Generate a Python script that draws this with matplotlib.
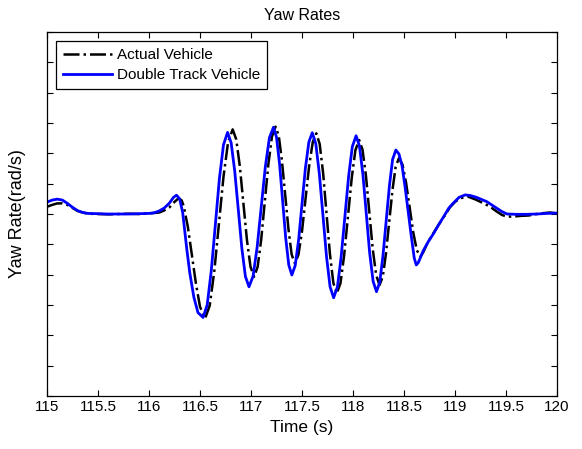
import numpy as np
import matplotlib
matplotlib.use('Agg')
import matplotlib.pyplot as plt

plt.rcParams['font.family'] = ['Liberation Sans', 'DejaVu Sans']

# Double Track Vehicle (blue, solid)
t_dt = [115.00, 115.05, 115.10, 115.15, 115.20, 115.25, 115.30, 115.35, 115.40, 115.50,
        115.60, 115.70, 115.80, 115.90, 116.00, 116.05, 116.10, 116.15, 116.20, 116.24,
        116.27, 116.30, 116.33, 116.37, 116.40, 116.44, 116.48, 116.53, 116.57, 116.61,
        116.65, 116.69, 116.73, 116.77, 116.805, 116.84, 116.875, 116.91, 116.945, 116.98,
        117.02, 117.06, 117.10, 117.14, 117.18, 117.22, 117.25, 117.28, 117.31, 117.34,
        117.37, 117.40, 117.433, 117.467, 117.50, 117.533, 117.567, 117.60, 117.635, 117.67,
        117.705, 117.74, 117.775, 117.81, 117.847, 117.883, 117.92, 117.957, 117.993, 118.03,
        118.063, 118.097, 118.13, 118.163, 118.197, 118.23, 118.262, 118.293, 118.325, 118.357,
        118.388, 118.42, 118.45, 118.48, 118.51, 118.54, 118.57, 118.60, 118.62, 118.64,
        118.69, 118.74, 118.79, 118.84, 118.89, 118.94, 118.98, 119.04, 119.10, 119.15,
        119.21, 119.26, 119.31, 119.36, 119.41, 119.46, 119.51, 119.60, 119.70, 119.80,
        119.90, 120.00]
yaw_dt = [0.039, 0.046, 0.049, 0.046, 0.035, 0.022, 0.011, 0.005, 0.002, 0.001,
          0.000, 0.000, 0.000, 0.001, 0.002, 0.004, 0.010, 0.020, 0.036, 0.055,
          0.062, 0.050, 0.005, -0.115, -0.195, -0.275, -0.325, -0.341, -0.300, -0.188,
          -0.036, 0.117, 0.228, 0.269, 0.235, 0.142, 0.015, -0.113, -0.206, -0.240,
          -0.205, -0.109, 0.023, 0.155, 0.251, 0.286, 0.253, 0.164, 0.043, -0.079,
          -0.168, -0.201, -0.170, -0.084, 0.034, 0.151, 0.237, 0.268, 0.232, 0.132,
          -0.004, -0.140, -0.240, -0.276, -0.240, -0.143, -0.009, 0.125, 0.222, 0.258,
          0.224, 0.130, 0.001, -0.128, -0.222, -0.256, -0.225, -0.139, -0.023, 0.094,
          0.180, 0.211, 0.198, 0.160, 0.090, 0.010, -0.070, -0.145, -0.168, -0.160,
          -0.120, -0.090, -0.064, -0.035, -0.008, 0.020, 0.035, 0.055, 0.063, 0.061,
          0.055, 0.048, 0.041, 0.030, 0.019, 0.008, 0.000, -0.001, -0.001, 0.000,
          0.002, 0.003]

# Actual Vehicle (black, dash-dot)
t_act = [115.00, 115.05, 115.10, 115.15, 115.20, 115.25, 115.30, 115.35, 115.40, 115.50,
         115.60, 115.70, 115.80, 115.90, 116.00, 116.10, 116.15, 116.20, 116.25, 116.29,
         116.32, 116.34, 116.38, 116.42, 116.46, 116.50, 116.55, 116.595, 116.64, 116.685,
         116.73, 116.775, 116.82, 116.855, 116.89, 116.925, 116.96, 116.995, 117.03, 117.065,
         117.10, 117.135, 117.17, 117.205, 117.24, 117.272, 117.303, 117.335, 117.367, 117.398,
         117.43, 117.465, 117.50, 117.535, 117.57, 117.605, 117.64, 117.673, 117.707, 117.74,
         117.773, 117.807, 117.84, 117.877, 117.913, 117.95, 117.987, 118.023, 118.06, 118.093,
         118.127, 118.16, 118.193, 118.227, 118.26, 118.292, 118.323, 118.355, 118.387, 118.418,
         118.45, 118.485, 118.52, 118.555, 118.59, 118.625, 118.66, 118.69, 118.73, 118.79,
         118.84, 118.89, 118.95, 119.00, 119.05, 119.13, 119.20, 119.25, 119.31, 119.36,
         119.41, 119.46, 119.51, 119.58, 119.65, 119.72, 119.80, 119.87, 119.93, 120.00]
yaw_act = [0.024, 0.030, 0.035, 0.035, 0.030, 0.020, 0.010, 0.005, 0.001, 0.000,
           -0.001, 0.000, 0.001, 0.000, 0.002, 0.005, 0.012, 0.022, 0.040, 0.052,
           0.045, 0.026, -0.041, -0.135, -0.230, -0.306, -0.344, -0.302, -0.188, -0.033,
           0.123, 0.237, 0.279, 0.246, 0.158, 0.036, -0.086, -0.174, -0.207, -0.174,
           -0.083, 0.041, 0.164, 0.255, 0.288, 0.258, 0.175, 0.063, -0.050, -0.133,
           -0.163, -0.134, -0.056, 0.052, 0.159, 0.237, 0.266, 0.231, 0.134, 0.002,
           -0.130, -0.227, -0.262, -0.228, -0.136, -0.009, 0.118, 0.210, 0.244, 0.212,
           0.125, 0.005, -0.115, -0.202, -0.234, -0.206, -0.130, -0.025, 0.080, 0.156,
           0.184, 0.163, 0.103, 0.022, -0.060, -0.119, -0.141, -0.125, -0.095, -0.062,
           -0.035, -0.010, 0.022, 0.040, 0.052, 0.057, 0.048, 0.040, 0.030, 0.020,
           0.008, -0.003, -0.009, -0.008, -0.006, -0.005, 0.000, 0.003, 0.005, 0.002]

x_ticks = [115, 115.5, 116, 116.5, 117, 117.5, 118, 118.5, 119, 119.5, 120]
x_labels = ['115', '115.5', '116', '116.5', '117', '117.5', '118', '118.5', '119', '119.5', '120']

fig = plt.figure(figsize=(5.82, 4.49), dpi=100)
ax = fig.add_axes([0.0808, 0.118, 0.8763, 0.8107])

ax.plot(t_act, yaw_act, color='black', linestyle='-.', linewidth=1.8, label='Actual Vehicle')
ax.plot(t_dt, yaw_dt, color='#0000ff', linestyle='-', linewidth=2.0, label='Double Track Vehicle')

ax.set_xlim(115, 120)
ax.set_ylim(-0.6, 0.6)
ax.set_xticks(x_ticks)
ax.set_xticklabels(x_labels, fontsize=11)
ax.set_yticks(np.arange(-0.6, 0.61, 0.1))
ax.set_yticklabels([])
ax.tick_params(direction='in', length=4, width=0.8, top=True, right=True, pad=3)
for s in ax.spines.values():
    s.set_linewidth(0.9)

ax.set_title('Yaw Rates', fontsize=11.5, pad=9)
ax.set_xlabel('Time (s)', fontsize=12.5, labelpad=4)
ax.set_ylabel('Yaw Rate(rad/s)', fontsize=13, labelpad=12)

leg = ax.legend(loc='upper left', fontsize=11, handlelength=3.2, handletextpad=0.3,
                borderpad=0.45, labelspacing=0.4, fancybox=False, framealpha=1,
                edgecolor='black', borderaxespad=0.6)
leg.get_frame().set_linewidth(0.9)

fig.savefig('out.png', dpi=100)
